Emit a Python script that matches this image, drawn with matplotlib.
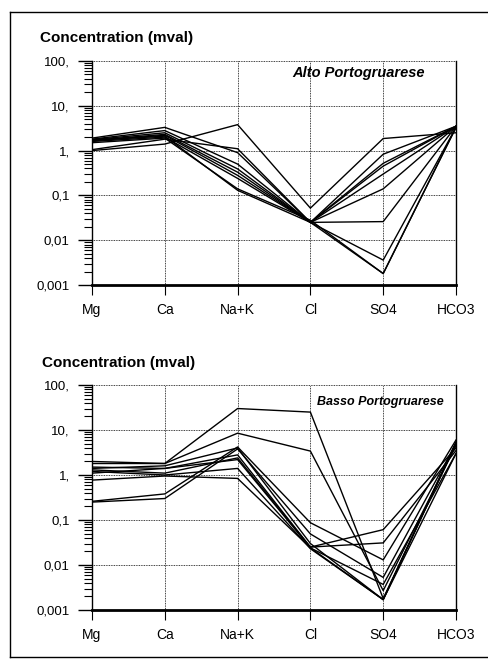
import matplotlib
matplotlib.use("Agg")
import matplotlib.pyplot as plt
from matplotlib.lines import Line2D
from matplotlib.ticker import FixedLocator, FixedFormatter, LogLocator, NullFormatter

plt.rcParams["font.family"] = ["Liberation Sans", "DejaVu Sans"]

ions = ["Mg", "Ca", "Na+K", "Cl", "SO4", "HCO3"]
ytick_values = [0.001, 0.01, 0.1, 1, 10, 100]
ytick_labels = ["0,001", "0,01", "0,1", "1,", "10,", "100,"]

# Alto Portogruarese samples (mval): Mg, Ca, Na+K, Cl, SO4, HCO3
alto = [
    [1.0, 1.4, 3.8, 0.052, 1.86, 2.5],
    [1.05, 1.8, 1.1, 0.025, 0.83, 3.5],
    [1.9, 3.3, 0.9, 0.025, 0.52, 3.5],
    [1.8, 2.8, 0.5, 0.025, 0.30, 3.5],
    [1.75, 2.5, 0.39, 0.025, 0.14, 3.5],
    [1.7, 2.3, 0.33, 0.025, 0.026, 3.5],
    [1.65, 2.2, 0.28, 0.025, 0.0036, 3.3],
    [1.6, 2.0, 0.24, 0.025, 0.0018, 3.3],
    [1.5, 1.9, 0.14, 0.028, 0.0018, 3.3],
    [1.7, 2.1, 0.13, 0.025, 0.45, 3.5],
]

# Basso Portogruarese samples (mval)
basso = [
    [2.0, 1.8, 30.0, 25.0, 0.0018, 5.0],
    [1.8, 1.8, 8.5, 3.4, 0.0027, 4.5],
    [0.26, 0.38, 4.2, 0.087, 0.013, 6.0],
    [0.25, 0.30, 3.8, 0.049, 0.0053, 5.0],
    [1.5, 1.4, 2.8, 0.025, 0.061, 4.0],
    [1.3, 1.1, 2.4, 0.025, 0.031, 3.5],
    [1.1, 1.4, 2.2, 0.024, 0.0037, 3.0],
    [1.2, 1.0, 1.4, 0.023, 0.0017, 3.0],
    [0.77, 0.95, 0.84, 0.024, 0.0017, 5.5],
    [1.4, 1.6, 4.0, 0.03, 0.0017, 5.0],
]


def schoeller(ax, samples, label, lx, ly, lsize):
    x = list(range(len(ions)))
    for s in samples:
        ax.plot(x, s, color="black", lw=1.0)
    ax.set_yscale("log")
    ax.set_ylim(0.001, 100)
    ax.set_xlim(0, len(ions) - 1)
    ax.yaxis.set_major_locator(FixedLocator(ytick_values))
    ax.yaxis.set_major_formatter(FixedFormatter(ytick_labels))
    ax.yaxis.set_minor_locator(LogLocator(base=10, subs=range(2, 10)))
    ax.yaxis.set_minor_formatter(NullFormatter())
    ax.set_xticks(x)
    ax.set_xticklabels(ions, fontsize=10)
    ax.tick_params(axis="y", which="major", length=10, width=1.0, pad=6, labelsize=9.5)
    ax.tick_params(axis="y", which="minor", length=6, width=0.8)
    ax.tick_params(axis="x", length=7, width=0.8, pad=6)
    ax.grid(True, which="major", linestyle=(0, (1, 1)), color="black", lw=0.6)
    ax.spines["top"].set_visible(False)
    ax.spines["left"].set_linewidth(1.0)
    ax.spines["right"].set_linewidth(1.0)
    ax.spines["bottom"].set_linewidth(2.0)
    ax.text(lx, ly, label, transform=ax.transAxes, fontsize=lsize,
            fontweight="bold", fontstyle="italic", va="center")


fig = plt.figure(figsize=(4.89, 6.62), dpi=100)
W, H = 489, 662

ax1 = fig.add_axes([92 / W, 1 - 285 / H, 364 / W, 224 / H])
schoeller(ax1, alto, "Alto Portogruarese", 0.55, 0.946, 10.5)
ax2 = fig.add_axes([92 / W, 1 - 610 / H, 364 / W, 225 / H])
schoeller(ax2, basso, "Basso Portogruarese", 0.618, 0.924, 9)

fig.text(40 / W, 1 - 38 / H, "Concentration (mval)", fontsize=11,
         fontweight="bold", va="center")
fig.text(42 / W, 1 - 363 / H, "Concentration (mval)", fontsize=11,
         fontweight="bold", va="center")

# page border of the scanned figure
for xs, ys in [((10, 489), (12, 12)), ((10, 10), (12, 657)), ((10, 489), (657, 657))]:
    fig.add_artist(Line2D([v / W for v in xs], [1 - v / H for v in ys],
                          color="black", lw=1.0))

fig.savefig("out.png", dpi=100)
